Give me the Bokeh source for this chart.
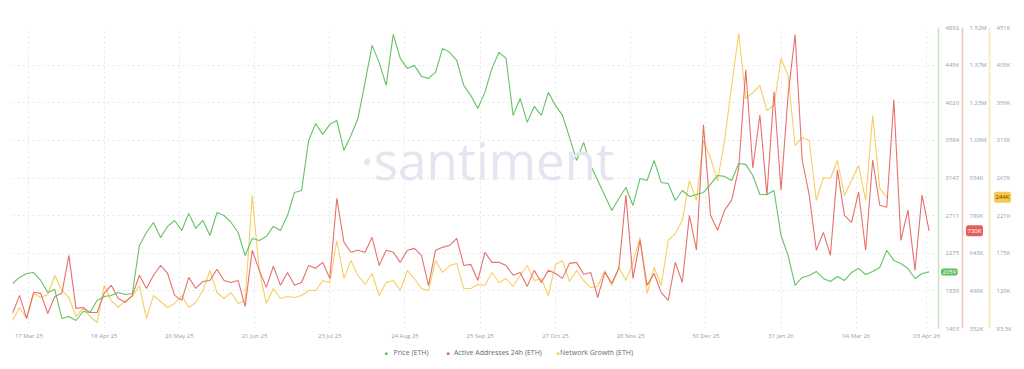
import pandas as pd
from bokeh.plotting import figure
from bokeh.models import (Range1d, LinearAxis, FixedTicker, DatetimeTickFormatter,
                          Label, ColumnDataSource)
from bokeh.embed import file_html
from bokeh.resources import INLINE

# ---------------- data (3-day samples) ----------------
START = "2025-03-10"

price_eth = [
    1925, 1995, 2041, 2052, 1960, 1820, 1855, 1519, 1542, 1496,
    1600, 1589, 1728, 1774, 1786, 1820, 1797, 1809, 2366, 2516,
    2632, 2458, 2586, 2655, 2539, 2737, 2563, 2655, 2481, 2748,
    2713, 2632, 2516, 2249, 2447, 2423, 2470, 2586, 2539, 2713,
    2980, 3003, 3583, 3780, 3653, 3769, 3815, 3467, 3641, 3838,
    4256, 4685, 4488, 4221, 4812, 4534, 4418, 4453, 4325, 4302,
    4372, 4650, 4604, 4511, 4221, 4105, 3954, 4140, 4418, 4604,
    4534, 3873, 4070, 3792, 3977, 3873, 4140, 3989, 3873, 3618,
    3351, 3560, 3293, 3119, 2945, 2771, 2910, 3038, 2829, 3142,
    3119, 3351, 3096, 3084, 2887, 3003, 2934, 2957, 2980, 3073,
    3177, 3166, 3119, 3316, 3305, 3177, 2957, 2957, 3003, 2481,
    2249, 1902, 1995, 2017, 2064, 1983, 1948, 2006, 1960, 2052,
    2099, 2029, 2064, 2110, 2308, 2192, 2157, 2099, 1983, 2041,
    2059,
]

active_addresses_k = [
    410, 480, 391, 492, 488, 410, 476, 488, 635, 430,
    433, 414, 414, 488, 519, 468, 453, 480, 558, 507,
    558, 596, 565, 480, 461, 550, 507, 534, 538, 581,
    538, 530, 538, 437, 655, 577, 511, 593, 519, 569,
    519, 530, 596, 585, 608, 546, 856, 686, 647, 655,
    647, 705, 596, 655, 647, 608, 655, 662, 635, 519,
    655, 666, 674, 701, 596, 600, 538, 647, 608, 608,
    596, 558, 569, 515, 577, 530, 577, 565, 546, 604,
    608, 562, 569, 472, 569, 527, 585, 868, 546, 693,
    519, 565, 492, 461, 608, 530, 790, 655, 1140, 790,
    732, 810, 849, 973, 1353, 973, 1178, 868, 1268, 887,
    1256, 1489, 1004, 868, 655, 724, 635, 965, 790, 763,
    880, 655, 1004, 829, 821, 1237, 693, 810, 577, 868,
    730,
]

network_growth_k = [
    93.3, 109.2, 95.7, 126.3, 121.4, 125.1, 148.3, 130.0, 121.4, 98.2,
    108.0, 98.2, 90.8, 136.1, 117.7, 109.2, 117.7, 122.6, 136.1, 95.7,
    123.8, 116.5, 109.2, 114.1, 123.8, 109.2, 115.3, 130.0, 154.4, 127.5,
    120.2, 127.5, 114.1, 117.7, 246.1, 154.4, 114.1, 132.4, 120.2, 122.6,
    121.4, 123.8, 130.0, 130.0, 142.2, 139.7, 191.1, 144.6, 166.6, 148.3,
    137.3, 150.7, 123.8, 139.7, 142.2, 130.0, 154.4, 144.6, 132.4, 130.0,
    166.6, 152.0, 160.5, 163.0, 132.4, 132.4, 137.3, 136.1, 152.0, 139.7,
    144.6, 134.9, 148.3, 160.5, 142.2, 144.6, 123.8, 161.7, 166.6, 141.0,
    154.4, 142.2, 133.6, 134.9, 154.4, 136.1, 158.1, 142.2, 164.2, 194.8,
    126.3, 158.1, 136.1, 191.1, 199.6, 215.5, 264.4, 240.0, 313.4, 291.3,
    264.4, 313.4, 380.6, 444.2, 364.7, 372.0, 380.6, 350.0, 356.1, 413.6,
    392.8, 307.2, 317.0, 313.4, 240.0, 268.1, 266.9, 288.9, 246.1, 264.4,
    282.8, 240.0, 343.9, 254.7, 244.0,
]

x_tick_dates = ["2025-03-17", "2025-04-18", "2025-05-20", "2025-06-21", "2025-07-23",
                "2025-08-24", "2025-09-25", "2025-10-27", "2025-11-28", "2025-12-30",
                "2026-01-31", "2026-03-04", "2026-04-03"]

price_ticks = [1403, 1839, 2275, 2711, 3147, 3584, 4020, 4456, 4892]
addr_ticks = [352, 497.6, 643.2, 788.8, 934.4, 1080, 1225.6, 1371.2, 1516.8]
addr_labels = ["352K", "498K", "643K", "789K", "934K", "1.08M", "1.23M", "1.37M", "1.52M"]
growth_ticks = [83.5, 129.5, 175.5, 221.5, 267.5, 313.5, 359.5, 405.5, 451.5]
growth_labels = ["83.5K", "129K", "175K", "221K", "267K", "313K", "359K", "405K", "451K"]

series_names = ["Price (ETH)", "Active Addresses 24h (ETH)", "Network Growth (ETH)"]

# ---------------- styling ----------------
GREEN = "#5cbf5c"
RED = "#e4605c"
YELLOW = "#f6c94e"
GREEN_AX = "#bfe6bf"
RED_AX = "#f2c2c0"
YELLOW_AX = "#f7e7b0"
TXT = "#9a9ea6"
FONT = "Open Sans"
FRAME_H = 301

dates = pd.date_range(START, periods=len(price_eth), freq="3D")

p = figure(frame_width=926, frame_height=FRAME_H, x_axis_type="datetime", y_axis_location="right",
           x_range=Range1d(pd.Timestamp("2025-03-10"), pd.Timestamp("2026-04-08")),
           y_range=Range1d(price_ticks[0], price_ticks[-1]),
           output_backend="svg", toolbar_location=None,
           min_border_left=12, min_border_top=27, min_border_right=86, min_border_bottom=41)
p.outline_line_color = None
p.extra_y_ranges = {"addr": Range1d(addr_ticks[0], addr_ticks[-1]),
                    "growth": Range1d(growth_ticks[0], growth_ticks[-1])}
price_span = price_ticks[-1] - price_ticks[0]

# watermark
p.add_layout(Label(x=pd.Timestamp("2025-09-28"),
                   y=price_ticks[4] + 0.06 * price_span,
                   text="\u00b7santiment", text_align="center", text_baseline="middle",
                   text_font=FONT, text_font_size="51px", text_color="#e3e6f0"))

# lines
src_g = ColumnDataSource(dict(x=dates[:len(network_growth_k)], y=network_growth_k))
src_a = ColumnDataSource(dict(x=dates, y=active_addresses_k))
src_p = ColumnDataSource(dict(x=dates, y=price_eth))
p.line("x", "y", source=src_g, y_range_name="growth", color=YELLOW, line_width=1.1, line_alpha=0.9)
p.line("x", "y", source=src_a, y_range_name="addr", color=RED, line_width=1.1, line_alpha=0.9)
p.line("x", "y", source=src_p, color=GREEN, line_width=1.1, line_alpha=0.95)

# axes
def style_axis(ax, line_color):
    ax.axis_line_color = line_color
    ax.axis_line_width = 1.5
    ax.major_tick_line_color = None
    ax.minor_tick_line_color = None
    ax.major_tick_out = 0
    ax.major_tick_in = 0
    ax.minor_tick_out = 0
    ax.minor_tick_in = 0
    ax.major_label_text_font = FONT
    ax.major_label_text_font_size = "6px"
    ax.major_label_text_color = TXT
    ax.major_label_standoff = 7

ya = p.yaxis[0]
ya.ticker = FixedTicker(ticks=price_ticks)
ya.major_label_overrides = {t: str(t) for t in price_ticks}
style_axis(ya, GREEN_AX)

ax_a = LinearAxis(y_range_name="addr", ticker=FixedTicker(ticks=addr_ticks),
                  major_label_overrides=dict(zip(addr_ticks, addr_labels)))
style_axis(ax_a, RED_AX)
p.add_layout(ax_a, "right")

ax_g = LinearAxis(y_range_name="growth", ticker=FixedTicker(ticks=growth_ticks),
                  major_label_overrides=dict(zip(growth_ticks, growth_labels)))
style_axis(ax_g, YELLOW_AX)
p.add_layout(ax_g, "right")

xa = p.xaxis[0]
xa.ticker = FixedTicker(ticks=[pd.Timestamp(d).value / 1e6 for d in x_tick_dates])
fmt = "%d %b %y"
xa.formatter = DatetimeTickFormatter(days=fmt, months=fmt, years=fmt, hours=fmt,
                                     minutes=fmt, seconds=fmt, milliseconds=fmt,
                                     microseconds=fmt, minsec=fmt, hourmin=fmt)
xa.axis_line_color = None
xa.major_tick_line_color = None
xa.minor_tick_line_color = None
xa.major_tick_out = 0
xa.major_tick_in = 0
xa.minor_tick_out = 0
xa.minor_tick_in = 0
xa.major_label_text_font = FONT
xa.major_label_text_font_size = "6px"
xa.major_label_text_color = TXT
xa.major_label_standoff = 3

for g in (p.xgrid[0], p.ygrid[0]):
    g.grid_line_color = "#e6e6e6"
    g.grid_line_dash = "2 3"
    g.grid_line_width = 1

# last-value badges (in the top side panel so they are not clipped by the frame)
def badge(x, yv, rng, txt, bg, fg):
    p.add_layout(Label(x=x, x_units="screen", y=yv, y_range_name=rng, text=txt,
                       text_font=FONT, text_font_size="6px", text_color=fg,
                       text_baseline="middle", background_fill_color=bg,
                       border_line_color=bg, border_line_width=3,
                       padding=0), "above")

badge(930, price_eth[-1], "default", f"{price_eth[-1]}", GREEN, "white")
badge(955, active_addresses_k[-1], "addr", f"{active_addresses_k[-1]:.0f}K", RED, "white")
badge(983, network_growth_k[-1], "growth", f"{network_growth_k[-1]:.0f}K", YELLOW, "#5a4a00")

# legend row below the date labels (text annotations in the bottom panel, not clipped)
y_leg = price_ticks[0] - 24 / FRAME_H * price_span
NB = "\u00a0"
legend_text = series_names[0] + NB * 14 + series_names[1] + NB * 10 + series_names[2]
p.add_layout(Label(x=381, x_units="screen", y=y_leg, text=legend_text,
                   text_font=FONT, text_font_size="7px", text_color="#666a70",
                   text_baseline="middle"), "below")
for xs, col in zip([372, 434, 544], [GREEN, RED, YELLOW]):
    p.add_layout(Label(x=xs, x_units="screen", y=y_leg, text="\u25a0",
                       text_font_size="5px", text_color=col, text_baseline="middle"), "below")

open("out.html", "w").write(file_html(p, INLINE))
